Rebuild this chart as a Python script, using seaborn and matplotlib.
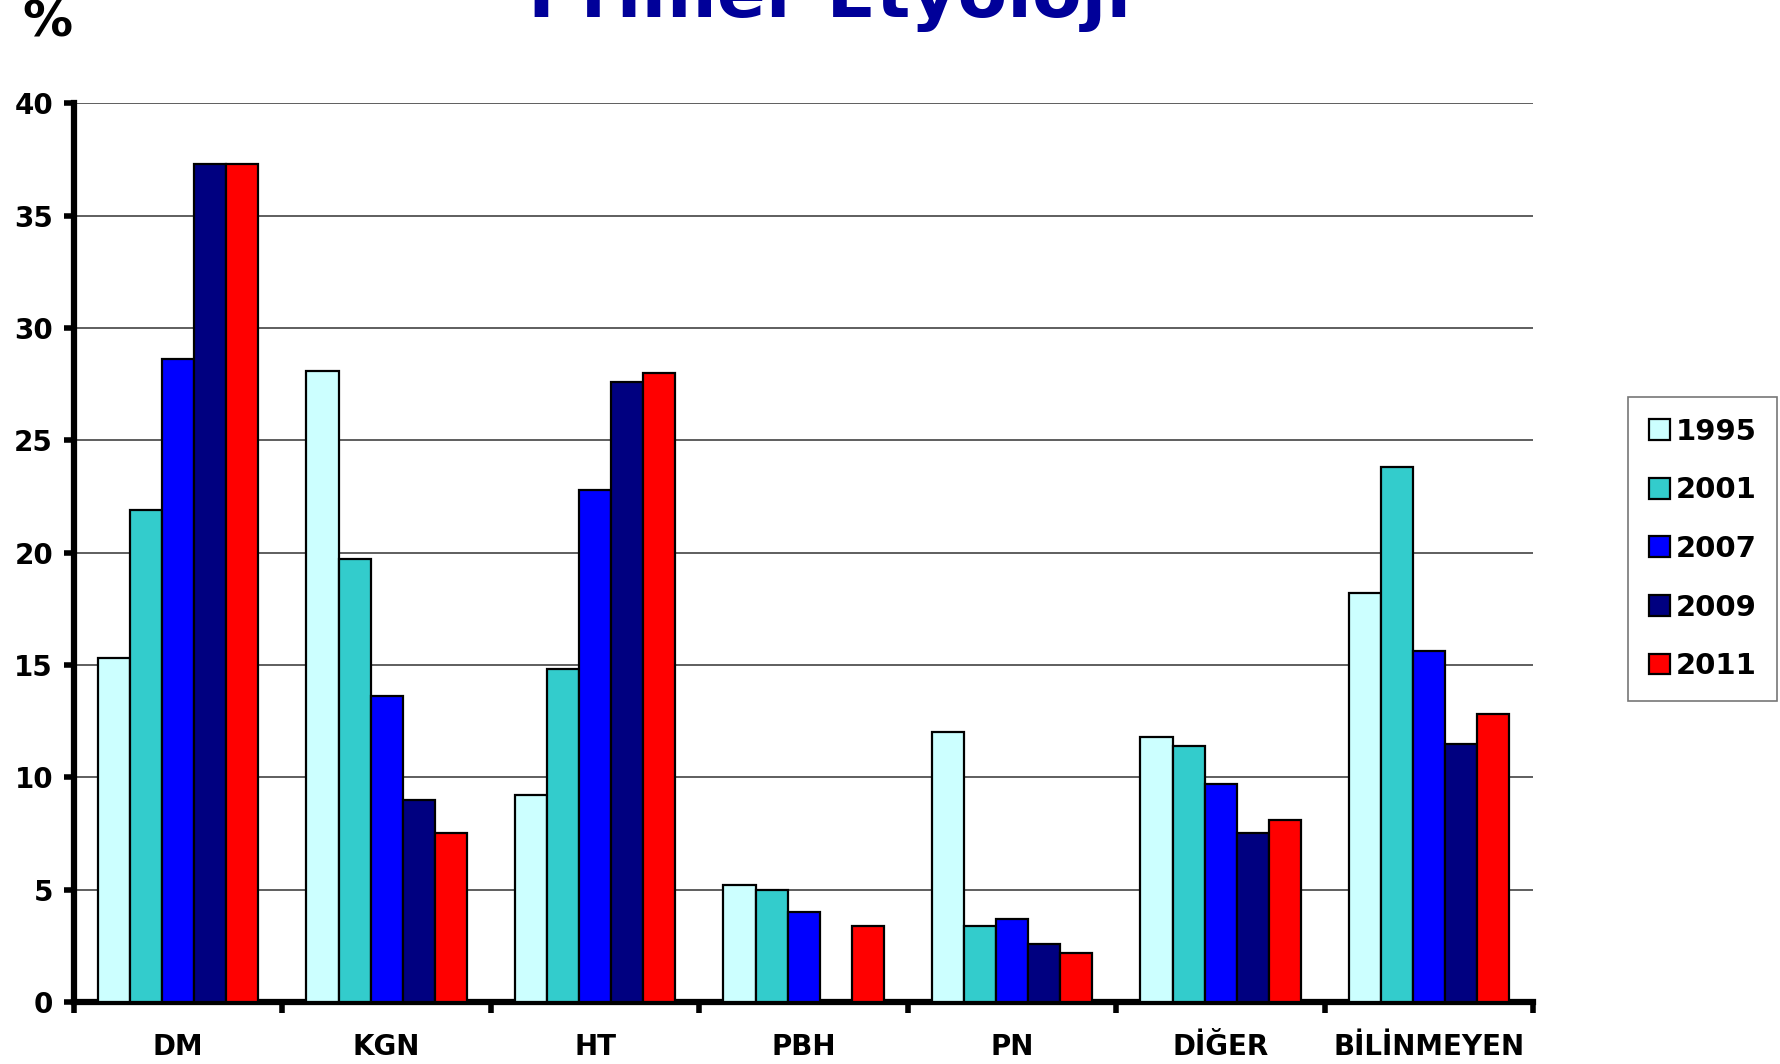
import numpy as np
import pandas as pd
import matplotlib
matplotlib.use("Agg")
import matplotlib.pyplot as plt
import seaborn as sns

# Primary etiology categories and survey years
categories = ["DM", "KGN", "HT", "PBH", "PN", "DİĞER", "BİLİNMEYEN"]
years = ["1995", "2001", "2007", "2009", "2011"]

# Percentages per category for each year (NaN = not reported)
v1995 = [15.3, 28.1, 9.2, 5.2, 12.0, 11.8, 18.2]
v2001 = [21.9, 19.7, 14.8, 5.0, 3.4, 11.4, 23.8]
v2007 = [28.6, 13.6, 22.8, 4.0, 3.7, 9.7, 15.6]
v2009 = [37.3, 9.0, 27.6, np.nan, 2.6, 7.5, 11.5]
v2011 = [37.3, 7.5, 28.0, 3.4, 2.2, 8.1, 12.8]

yticks = [0, 5, 10, 15, 20, 25, 30, 35, 40]
colors = ["#CCFFFF", "#33CCCC", "#0000FF", "#000080", "#FF0000"]

series = [v1995, v2001, v2007, v2009, v2011]
df = pd.DataFrame({
    "Etyoloji": categories * len(years),
    "Yıl": [y for y in years for _ in categories],
    "Oran": [v for s in series for v in s],
})

sns.set_theme(style="white")
plt.rcParams["font.family"] = ["DejaVu Sans"]
plt.rcParams["text.color"] = "black"
plt.rcParams["xtick.color"] = "black"
plt.rcParams["ytick.color"] = "black"

fig = plt.figure(figsize=(17.81, 10.64), dpi=100)
ax = fig.add_axes([0.0415, 0.0583, 0.8195, 0.8447])

sns.barplot(data=df, x="Etyoloji", y="Oran", hue="Yıl", order=categories,
            hue_order=years, palette=colors, width=0.77, edgecolor="black",
            linewidth=1.6, saturation=1, errorbar=None, ax=ax, zorder=3)

ax.set_ylim(0, 40)
ax.set_xlim(-0.5, len(categories) - 0.5)
ax.set_yticks(yticks)
ax.set_yticklabels([str(t) for t in yticks], fontsize=20, fontweight="bold")
ax.yaxis.grid(True, color="#333333", linewidth=1.1, zorder=0)
ax.set_axisbelow(True)

# category labels centred, tick marks at group boundaries
ax.set_xticks(range(len(categories)))
ax.set_xticklabels(categories, fontsize=20, fontweight="bold")
ax.set_xticks(np.arange(-0.5, len(categories), 1.0), minor=True)
ax.tick_params(axis="x", which="major", length=0, pad=22)
ax.tick_params(axis="x", which="minor", length=8, width=4, direction="out",
               color="black", bottom=True)
ax.tick_params(axis="y", which="major", length=7, width=4, direction="out",
               color="black", left=True, pad=8)

ax.set_xlabel("")
ax.set_ylabel("")
for side in ["top", "right"]:
    ax.spines[side].set_visible(False)
ax.spines["left"].set_linewidth(4.5)
ax.spines["bottom"].set_linewidth(4.5)
ax.spines["left"].set_color("black")
ax.spines["bottom"].set_color("black")

leg = ax.legend(title=None, loc="center left", bbox_to_anchor=(1.065, 0.504),
                frameon=True, fancybox=False, edgecolor="#555555",
                prop={"size": 21, "weight": "bold"}, handlelength=0.72,
                handleheight=0.72, handletextpad=0.2, labelspacing=1.05,
                borderpad=0.7, borderaxespad=0)
leg.get_frame().set_linewidth(1.2)
for t in leg.get_texts():
    t.set_color("black")

fig.text(0.0268, 0.979, "%", fontsize=36, fontweight="bold", ha="center",
         va="center", color="black")
fig.text(0.466, 0.984, "Primer Etyoloji", fontsize=52, fontweight="bold",
         ha="center", va="baseline", color="#000099")

fig.savefig("out.png", dpi=100)
